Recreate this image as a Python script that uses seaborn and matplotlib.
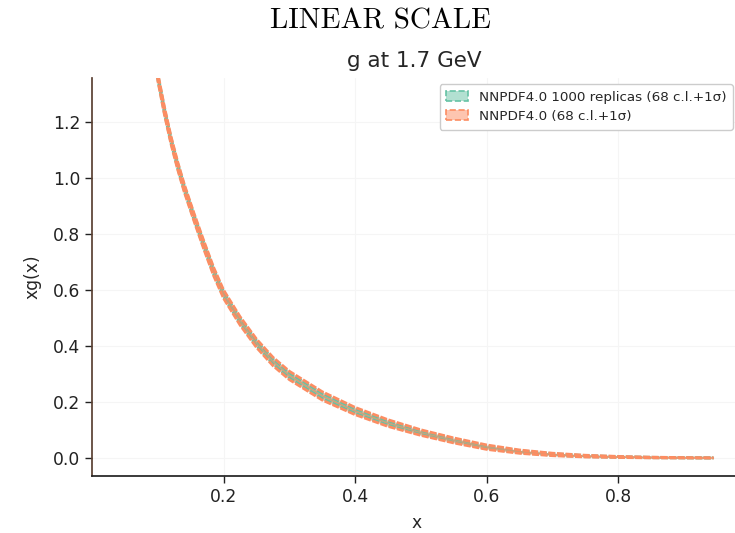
import numpy as np
import pandas as pd
import matplotlib
matplotlib.use("Agg")
import matplotlib.pyplot as plt
import matplotlib.patches as mpatches
import seaborn as sns

# ---- data ----
x_vals = [0.09, 0.10, 0.11, 0.12, 0.13, 0.14, 0.155, 0.17, 0.185, 0.20, 0.225,
          0.25, 0.275, 0.30, 0.35, 0.40, 0.45, 0.50, 0.55, 0.60, 0.65, 0.70,
          0.75, 0.80, 0.85, 0.90, 0.945]
central_1000 = [1.56, 1.36, 1.24, 1.135, 1.045, 0.965, 0.86, 0.76, 0.665, 0.585, 0.49,
                0.41, 0.345, 0.295, 0.222, 0.168, 0.125, 0.091, 0.063, 0.039, 0.023, 0.013,
                0.007, 0.004, 0.002, 0.001, 0.0005]
central_base = [1.56, 1.36, 1.24, 1.135, 1.045, 0.965, 0.86, 0.76, 0.665, 0.585, 0.49,
                0.41, 0.345, 0.295, 0.222, 0.168, 0.125, 0.091, 0.063, 0.039, 0.023, 0.013,
                0.007, 0.004, 0.002, 0.001, 0.0005]
err_1000 = [0.009, 0.009, 0.009, 0.009, 0.009, 0.009, 0.009, 0.009, 0.009, 0.009, 0.009,
            0.009, 0.009, 0.009, 0.009, 0.008, 0.007, 0.006, 0.0055, 0.0045, 0.0035, 0.0028,
            0.002, 0.0012, 0.0008, 0.0005, 0.0003]
err_base = [0.014, 0.014, 0.014, 0.014, 0.014, 0.014, 0.014, 0.015, 0.015, 0.015, 0.015,
            0.015, 0.015, 0.015, 0.015, 0.013, 0.012, 0.010, 0.009, 0.008, 0.006, 0.0045,
            0.0032, 0.002, 0.0013, 0.0008, 0.0005]
labels = ["NNPDF4.0 1000 replicas (68 c.l.+1σ)", "NNPDF4.0 (68 c.l.+1σ)"]
colors = ["#66c2a5", "#fc8d62"]
x_ticks = [0.2, 0.4, 0.6, 0.8]
y_ticks = [0.0, 0.2, 0.4, 0.6, 0.8, 1.0, 1.2]

sns.set_theme(style="ticks")
plt.rcParams['font.family'] = ['DejaVu Sans']

W, H = 735, 533
fig = plt.figure(figsize=(W / 100, H / 100), dpi=100)
left, right, top, bottom = 92.1, 742.0, 78.0, 476.0
ax = fig.add_axes([left / W, 1 - bottom / H, (right - left) / W, (bottom - top) / H])

series = [(central_1000, err_1000), (central_base, err_base)]
for (cen, err), col, lab in zip(series, colors, labels):
    xs = np.array(x_vals)
    c = np.array(cen)
    e = np.array(err)
    df = pd.DataFrame({"x": xs, "y": c})
    ax.fill_between(xs, c - e, c + e, color=col, alpha=0.5, lw=0, zorder=2)
    sns.lineplot(data=df, x="x", y="y", ax=ax, color=col, lw=1.0, alpha=0.6, zorder=3)
    sns.lineplot(x=xs, y=c - e, ax=ax, color=col, lw=2.0, ls=(0, (2.5, 0.6)), zorder=3)
    sns.lineplot(x=xs, y=c + e, ax=ax, color=col, lw=2.0, ls=(0, (2.5, 0.6)), zorder=3)

x_right = (right - left) / 657.5
ax.set_xlim(0.0, x_right)
ax.set_ylim(-0.064, 1.357)
ax.set_xticks(x_ticks)
ax.set_yticks(y_ticks)
ax.set_xticklabels([f"{t:.1f}" for t in x_ticks])
ax.set_yticklabels([f"{t:.1f}" for t in y_ticks])
ax.tick_params(labelsize=12.3, length=5, width=1, colors="#222222")
ax.grid(True, color="#f5f5f5", lw=0.8)
ax.set_axisbelow(True)
for s in ["top", "right"]:
    ax.spines[s].set_visible(False)
ax.spines["left"].set_color("#5a4032")
ax.spines["bottom"].set_color("#222222")
ax.set_xlabel("x", fontsize=12.3, labelpad=6)
ax.set_ylabel("xg(x)", fontsize=12.3, labelpad=8)
ax.set_title("g at 1.7 GeV", fontsize=15.5, pad=8, x=(414 - left) / (right - left))

handles = [mpatches.Patch(facecolor=(col, 0.5), edgecolor=col, linestyle="--", lw=1.2)
           for col in colors]
fig.legend(handles, labels, loc="upper right", bbox_to_anchor=(733 / W, 1 - 84 / H),
           fontsize=9.7, frameon=True, borderaxespad=0, handlelength=1.6,
           handleheight=0.8, edgecolor="#cccccc", framealpha=1, fancybox=True,
           borderpad=0.5, labelspacing=0.45)

fig.text(380 / W, 1 - 21 / H, "LINEAR SCALE", ha="center", va="center",
         fontsize=21, family="cmr10", color="black")

fig.savefig("out.png", dpi=100)
